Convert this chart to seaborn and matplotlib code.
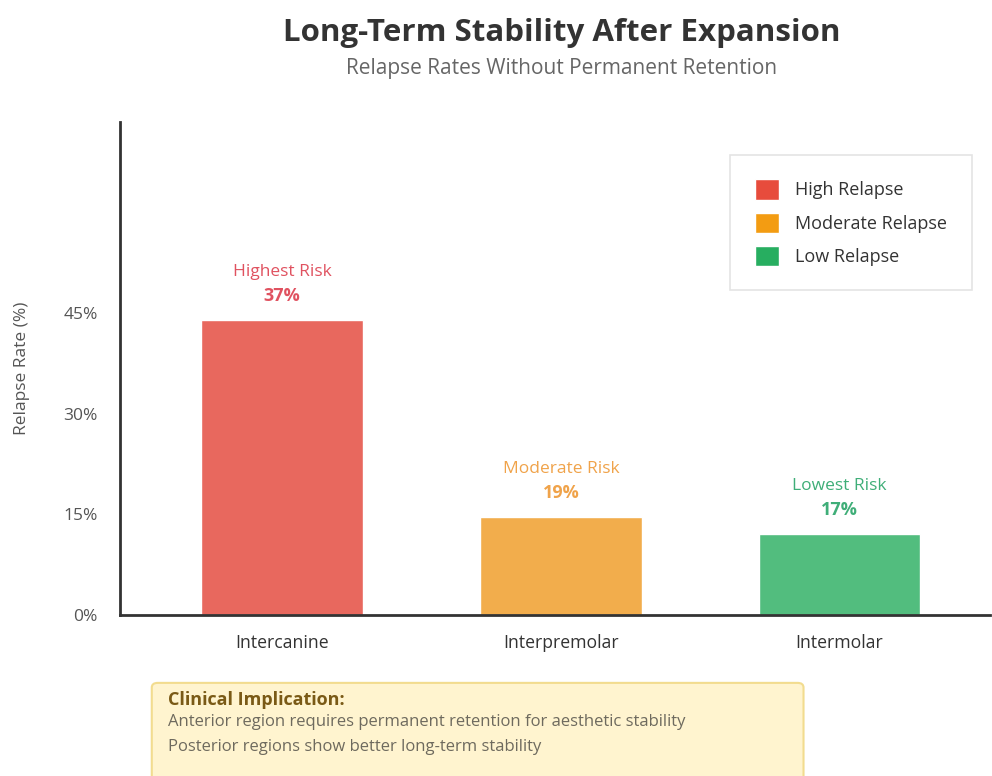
import pandas as pd
import matplotlib.pyplot as plt
import seaborn as sns
from matplotlib.patches import Patch, FancyBboxPatch

regions = ['Intercanine', 'Interpremolar', 'Intermolar']
bar_heights = [44.0, 14.6, 12.1]
risk_labels = ['Highest Risk', 'Moderate Risk', 'Lowest Risk']
pct_labels = ['37%', '19%', '17%']
legend_labels = ['High Relapse', 'Moderate Relapse', 'Low Relapse']
yticks = [0, 15, 30, 45]

bar_colors = ['#E8685E', '#F2AD4C', '#52BD7E']
legend_colors = ['#E74C3C', '#F39C12', '#27AE60']
text_colors = ['#E05260', '#F0A34A', '#3FAE78']

df = pd.DataFrame({'region': regions, 'rate': bar_heights})

sns.set_style('white')
plt.rcParams['font.family'] = ['Open Sans', 'DejaVu Sans']

fig = plt.figure(figsize=(9.92, 7.76), dpi=100)
ax = fig.add_axes([0.121, 0.2075, 0.877, 0.6355])

sns.barplot(data=df, x='region', y='rate', hue='region', palette=bar_colors,
            width=0.58, legend=False, ax=ax, saturation=1)

# labels above each bar
for i, (h, r, p) in enumerate(zip(bar_heights, risk_labels, pct_labels)):
    ax.annotate(r, (i, h), xytext=(0, 34.5), textcoords='offset points',
                ha='center', va='center', fontsize=12.5, color=text_colors[i])
    ax.annotate(p, (i, h), xytext=(0, 17), textcoords='offset points',
                ha='center', va='center', fontsize=13, fontweight='bold',
                color=text_colors[i])

ax.set_xlim(-0.582, 2.54)
ax.set_ylim(0, 73.5)
ax.set_yticks(yticks)
ax.set_yticklabels([f'{t}%' for t in yticks], color='#555555', fontsize=12.5)
ax.tick_params(axis='both', length=0)
ax.tick_params(axis='y', pad=16)
ax.tick_params(axis='x', pad=14, labelsize=12.7, labelcolor='#333333')
ax.set_xlabel('')
ax.set_ylabel('Relapse Rate (%)', color='#555555', fontsize=12.5, labelpad=24)

for s in ['top', 'right']:
    ax.spines[s].set_visible(False)
for s in ['left', 'bottom']:
    ax.spines[s].set_color('#333333')
    ax.spines[s].set_linewidth(2)

handles = [Patch(facecolor=c, label=l) for c, l in zip(legend_colors, legend_labels)]
leg = ax.legend(handles=handles, loc='upper right', bbox_to_anchor=(0.979, 0.933),
                fontsize=13, frameon=True, fancybox=False, borderpad=1.35,
                handlelength=1.35, handleheight=1.35, handletextpad=0.9,
                labelspacing=0.72, borderaxespad=0)
leg.get_frame().set_edgecolor('#DDDDDD')
leg.get_frame().set_linewidth(1.2)
for t in leg.get_texts():
    t.set_color('#333333')

fig.text(0.566, 0.958, 'Long-Term Stability After Expansion', ha='center', va='center',
         fontsize=22.5, fontweight='bold', color='#333333')
fig.text(0.566, 0.912, 'Relapse Rates Without Permanent Retention', ha='center',
         va='center', fontsize=15, color='#666666')

box = FancyBboxPatch((0.153, -0.02), 0.657, 0.14, transform=fig.transFigure,
                     boxstyle='round,pad=0,rounding_size=0.006',
                     facecolor='#FFF4CF', edgecolor='#F2DC8F', linewidth=1.5)
fig.patches.append(box)
fig.text(0.169, 0.098, 'Clinical Implication:', fontsize=13, fontweight='bold',
         color='#7A5A16', va='center')
fig.text(0.169, 0.069, 'Anterior region requires permanent retention for aesthetic stability',
         fontsize=12, color='#6E6A5E', va='center')
fig.text(0.169, 0.038, 'Posterior regions show better long-term stability',
         fontsize=12, color='#6E6A5E', va='center')

fig.savefig('out.png', dpi=100)
